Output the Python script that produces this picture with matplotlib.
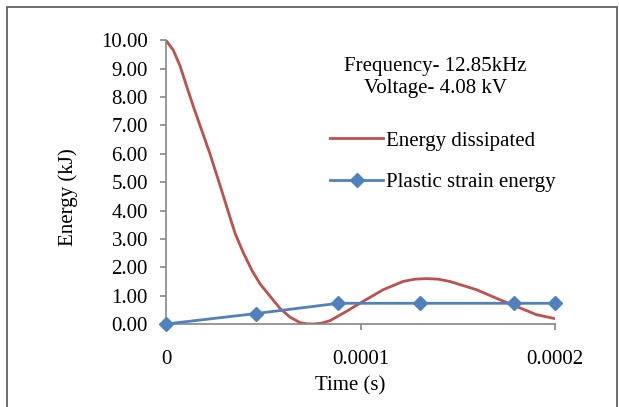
import matplotlib
matplotlib.use("Agg")
import matplotlib.pyplot as plt
from matplotlib.patches import Rectangle

# Energy dissipated
t_diss = [0.0, 3.75e-6, 7.2e-6, 1.1e-5, 1.45e-5, 1.84e-5, 2.26e-5, 2.6e-5,
          2.9e-5, 3.2e-5, 3.55e-5, 3.97e-5, 4.41e-5, 4.83e-5, 5.35e-5,
          5.86e-5, 6.38e-5, 6.89e-5, 7.2e-5, 7.58e-5, 8.0e-5, 8.44e-5,
          9.29e-5, 1.014e-4, 1.117e-4, 1.219e-4, 1.28e-4, 1.339e-4, 1.40e-4,
          1.459e-4, 1.596e-4, 1.715e-4, 1.801e-4, 1.904e-4, 2.0e-4]
e_diss = [10.0, 9.65, 9.10, 8.30, 7.58, 6.82, 6.00, 5.27,
          4.62, 3.96, 3.20, 2.52, 1.90, 1.42, 0.98,
          0.55, 0.24, 0.05, 0.01, 0.00, 0.03, 0.12,
          0.45, 0.80, 1.21, 1.50, 1.58, 1.60, 1.58,
          1.50, 1.21, 0.86, 0.62, 0.33, 0.19]

# Plastic strain energy
t_plastic = [0.0, 4.64e-5, 8.86e-5, 1.305e-4, 1.787e-4, 2.0e-4]
e_plastic = [0.0, 0.37, 0.73, 0.73, 0.73, 0.73]

xticks = [0, 0.0001, 0.0002]
xtick_labels = ["0", "0.0001", "0.0002"]
yticks = [0, 1, 2, 3, 4, 5, 6, 7, 8, 9, 10]

plt.rcParams['font.family'] = ['Liberation Serif', 'DejaVu Serif']
FS = 15

W, H = 619, 407
fig = plt.figure(figsize=(W / 100, H / 100), dpi=100)
ax = fig.add_axes([166 / W, 1 - 324 / H, (555 - 166) / W, (324 - 40.3) / H])

ax.plot(t_diss, e_diss, color='#C0504D', lw=2, label='Energy dissipated')
ax.plot(t_plastic, e_plastic, color='#4F81BD', lw=2, marker='D', ms=7,
        label='Plastic strain energy', clip_on=False, zorder=3)

ax.set_xlim(0, 0.0002)
ax.set_ylim(0, 10)
ax.set_xticks(xticks)
ax.set_xticklabels(xtick_labels)
ax.set_yticks(yticks)
ax.set_yticklabels(["%.2f" % v for v in yticks])

for s in ['top', 'right']:
    ax.spines[s].set_visible(False)
for s in ['left', 'bottom']:
    ax.spines[s].set_color('#868686')
    ax.spines[s].set_linewidth(1.2)
ax.tick_params(axis='both', colors='#868686', labelcolor='black', labelsize=FS,
               length=4, width=1.2)
ax.tick_params(axis='x', pad=15)
ax.tick_params(axis='y', pad=9)

fig.text(350 / W, 1 - 386 / H, "Time (s)", ha='center', va='center', fontsize=FS)
fig.text(68 / W, 1 - 197 / H, "Energy (kJ)", ha='center', va='center',
         rotation=90, fontsize=FS)

fig.text(435 / W, 1 - 66 / H, "Frequency- 12.85kHz", ha='center', va='center', fontsize=FS)
fig.text(435 / W, 1 - 88 / H, "Voltage- 4.08 kV", ha='center', va='center', fontsize=FS)

leg = ax.legend(loc='upper left', bbox_to_anchor=(330 / W, 1 - 131 / H),
                bbox_transform=fig.transFigure, frameon=False, fontsize=FS,
                handlelength=2.55, handletextpad=0.15, labelspacing=1.05,
                borderpad=0, borderaxespad=0)

fig.patches.append(Rectangle((7 / W, -0.02), 610 / W, 1 - 7 / H + 0.02,
                             transform=fig.transFigure, fill=False,
                             edgecolor='#555555', lw=1.2))

fig.savefig('out.png', dpi=100)
